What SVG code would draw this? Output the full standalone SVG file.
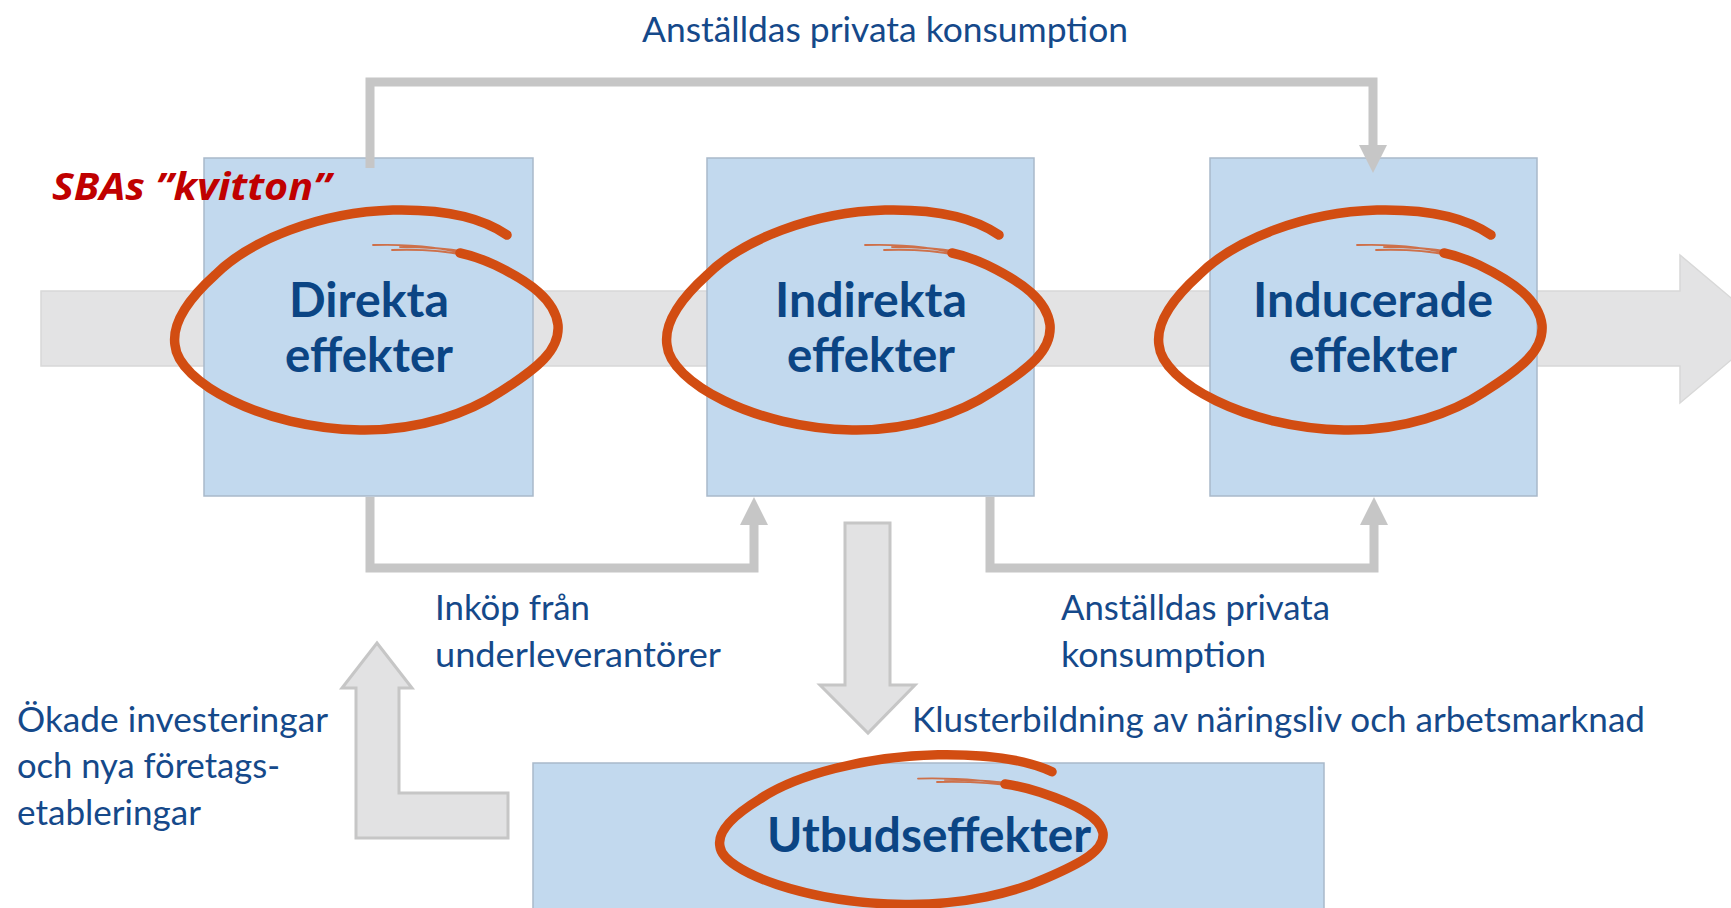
<svg xmlns="http://www.w3.org/2000/svg" width="1731" height="908" viewBox="0 0 1731 908">
<defs>
<style>
.box{fill:#c2d9ee;stroke:#a9b9ca;stroke-width:1.5}
.title{font-family:Lato,"Liberation Sans",sans-serif;font-weight:700;font-size:47px;fill:#0b4584;text-anchor:middle}
.lbl{font-family:Lato,"Liberation Sans",sans-serif;font-size:34px;fill:#15498a}
.conn{fill:none;stroke:#c6c6c6;stroke-width:9;stroke-linejoin:miter}
.block{fill:#e2e2e3;stroke:#c6c6c6;stroke-width:3}
.ring{fill:none;stroke:#d24d12;stroke-width:9.5;stroke-linecap:round;vector-effect:non-scaling-stroke}
.tail{fill:none;stroke:#d24d12;stroke-width:1.8;stroke-linecap:round;vector-effect:non-scaling-stroke;opacity:.75}
</style>
<marker id="ah" markerUnits="userSpaceOnUse" markerWidth="30" markerHeight="30" refX="0" refY="14" orient="auto">
<path d="M0,0 L28,14 L0,28 z" fill="#c6c6c6"/>
</marker>
</defs>
<rect width="1731" height="908" fill="#ffffff"/>
<g id="band">
<path d="M41,291 H1680 V255 L1768,329 L1680,403 V366 H41 Z" fill="#e3e3e4" stroke="#d8d8d8" stroke-width="1.5"/>
</g>
<g id="node-direkta">
<rect class="box" x="204" y="158" width="329" height="338"/>
<text class="title" x="369" y="317" textLength="160" lengthAdjust="spacingAndGlyphs">Direkta</text>
<text class="title" x="369" y="372" textLength="168" lengthAdjust="spacingAndGlyphs">effekter</text>
</g>
<g id="node-indirekta">
<rect class="box" x="707" y="158" width="327" height="338"/>
<text class="title" x="871" y="317" textLength="192" lengthAdjust="spacingAndGlyphs">Indirekta</text>
<text class="title" x="871" y="372" textLength="168" lengthAdjust="spacingAndGlyphs">effekter</text>
</g>
<g id="node-inducerade">
<rect class="box" x="1210" y="158" width="327" height="338"/>
<text class="title" x="1373" y="317" textLength="240" lengthAdjust="spacingAndGlyphs">Inducerade</text>
<text class="title" x="1373" y="372" textLength="168" lengthAdjust="spacingAndGlyphs">effekter</text>
</g>
<g id="node-utbud">
<rect class="box" x="533" y="763" width="791" height="160"/>
<text class="title" x="929" y="852" textLength="324" lengthAdjust="spacingAndGlyphs">Utbudseffekter</text>
</g>
<g id="connectors">
<path class="conn" d="M370,168 V82 H1373 V145" marker-end="url(#ah)"/>
<path class="conn" d="M370,497 V568 H754 V525" marker-end="url(#ah)"/>
<path class="conn" d="M990,497 V568 H1374 V525" marker-end="url(#ah)"/>
<path class="block" d="M845,523 H890 V685 H915 L868,733 L820,685 H845 Z"/>
<path class="block" d="M508,838 H356 V688 H342 L377,643 L412,688 H399 V793 H508 Z"/>
</g>
<g id="rings">
<g id="ring1">
<path class="ring" d="M507,235 C480,216 440,209 393,210 C320,212 250,240 215,275 C185,302 172,325 175,345 C178,382 262,428 360,430 C420,431 470,412 500,392 C538,368 560,350 558,325 C555,300 530,282 495,265 C480,258 470,255 460,253"/>
<path class="tail" d="M472,256 C440,246 405,244 373,245 M480,259 C450,250 420,249 392,250 M465,252 C445,248 425,247 400,247"/>
</g>
<g id="ring2" transform="translate(492,0)">
<path class="ring" d="M507,235 C480,216 440,209 393,210 C320,212 250,240 215,275 C185,302 172,325 175,345 C178,382 262,428 360,430 C420,431 470,412 500,392 C538,368 560,350 558,325 C555,300 530,282 495,265 C480,258 470,255 460,253"/>
<path class="tail" d="M472,256 C440,246 405,244 373,245 M480,259 C450,250 420,249 392,250 M465,252 C445,248 425,247 400,247"/>
</g>
<g id="ring3" transform="translate(984,0)">
<path class="ring" d="M507,235 C480,216 440,209 393,210 C320,212 250,240 215,275 C185,302 172,325 175,345 C178,382 262,428 360,430 C420,431 470,412 500,392 C538,368 560,350 558,325 C555,300 530,282 495,265 C480,258 470,255 460,253"/>
<path class="tail" d="M472,256 C440,246 405,244 373,245 M480,259 C450,250 420,249 392,250 M465,252 C445,248 425,247 400,247"/>
</g>
<g id="ring4" transform="translate(545,612) scale(1,0.68)">
<path class="ring" d="M507,235 C480,216 440,209 393,210 C320,212 250,240 215,275 C185,302 172,325 175,345 C178,382 262,428 360,430 C420,431 470,412 500,392 C538,368 560,350 558,325 C555,300 530,282 495,265 C480,258 470,255 460,253"/>
<path class="tail" d="M472,256 C440,246 405,244 373,245 M480,259 C450,250 420,249 392,250 M465,252 C445,248 425,247 400,247"/>
</g>
</g>
<g id="labels">
<text x="52" y="200" font-family="'Noto Sans','Liberation Sans',sans-serif" font-weight="700" font-style="italic" font-size="38" fill="#c00000" textLength="279" lengthAdjust="spacingAndGlyphs">SBAs ”kvitton”</text>
<text class="lbl" x="642" y="42" textLength="486" lengthAdjust="spacingAndGlyphs">Anställdas privata konsumption</text>
<text class="lbl" x="435" y="620" textLength="155" lengthAdjust="spacingAndGlyphs">Inköp från</text>
<text class="lbl" x="435" y="667" textLength="286" lengthAdjust="spacingAndGlyphs">underleverantörer</text>
<text class="lbl" x="1061" y="620" textLength="269" lengthAdjust="spacingAndGlyphs">Anställdas privata</text>
<text class="lbl" x="1061" y="667" textLength="205" lengthAdjust="spacingAndGlyphs">konsumption</text>
<text class="lbl" x="912" y="732" textLength="733" lengthAdjust="spacingAndGlyphs">Klusterbildning av näringsliv och arbetsmarknad</text>
<text class="lbl" x="17" y="732" textLength="311" lengthAdjust="spacingAndGlyphs">Ökade investeringar</text>
<text class="lbl" x="17" y="778" textLength="263" lengthAdjust="spacingAndGlyphs">och nya företags-</text>
<text class="lbl" x="17" y="825" textLength="184" lengthAdjust="spacingAndGlyphs">etableringar</text>
</g>
</svg>
